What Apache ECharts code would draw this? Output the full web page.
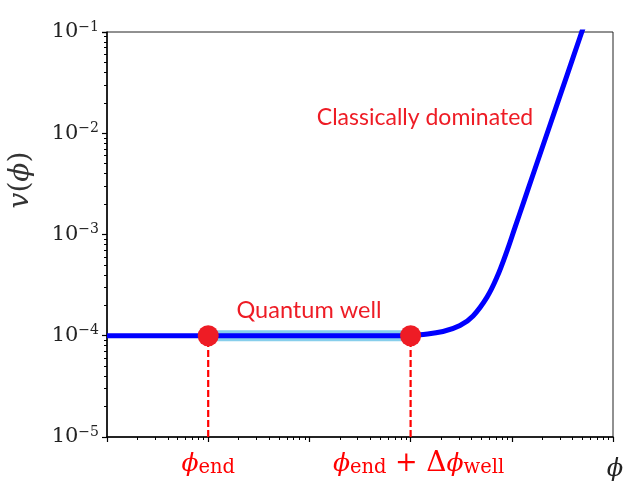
<!DOCTYPE html>
<html>
<head>
<meta charset="utf-8">
<script src="https://cdn.jsdelivr.net/npm/echarts@6/dist/echarts.min.js"></script>
<style>
  html, body { margin: 0; padding: 0; background: #fff; }
  #chart { width: 643px; height: 504px; }
</style>
</head>
<body>
<div id="chart"></div>
<script>
// ---- data ----
const phiCurve = [1, 10, 100, 1000, 1239, 2089, 3076, 4140, 5690, 7140, 8970, 10800, 13100, 16000, 23900, 34900, 47000, 56000];
const vCurve   = [1e-4, 1e-4, 1e-4, 1.0e-4, 1.022e-4, 1.10e-4, 1.26e-4, 1.57e-4, 2.41e-4, 3.80e-4, 6.9e-4, 1.19e-3, 2.09e-3, 3.76e-3, 1.215e-2, 3.67e-2, 8.78e-2, 0.147];
const wellPhi  = [10, 1000];          // phi_end, phi_end + dphi_well
const wellV    = [1e-4, 1e-4];
const xMin = 1, xMax = 1e5;
const yMin = 1e-5, yMax = 1e-1;
const xLabelValues = [10, 1000];
const xLabelTexts  = ['{p|ϕ}{sub|end}', '{gap|}{p|ϕ}{sub|end}{op| + }{d|Δ}{p|ϕ}{sub|well}'];
const yTickExponents = [-5, -4, -3, -2, -1];
const annotations = ['Classically dominated', 'Quantum well'];

const RED = '#ee1c25';
const chart = echarts.init(document.getElementById('chart'));

const curveData = phiCurve.map((p, i) => [p, vCurve[i]]);
const wellData = wellPhi.map((p, i) => [p, wellV[i]]);

const series = [];
wellPhi.forEach((p, i) => {
  series.push({
    type: 'line', data: [[p, yMin], [p, wellV[i]]], symbol: 'none', silent: true,
    lineStyle: { color: '#ff0000', width: 2.2, type: [7, 3] }, z: 1
  });
});
series.push({
  type: 'line', data: wellData, symbol: 'none', silent: true,
  lineStyle: { color: '#87ceeb', width: 11, cap: 'butt' }, z: 2
});
series.push({
  type: 'line', data: curveData, symbol: 'none', smooth: 0.4, silent: true, clip: true,
  lineStyle: { color: '#0000ff', width: 5 }, z: 3
});
series.push({
  type: 'scatter', data: wellData, symbol: 'circle', symbolSize: 21, silent: true,
  itemStyle: { color: RED, opacity: 1 }, z: 4
});

const serif = 'DejaVu Serif';
chart.setOption({
  animation: false,
  backgroundColor: '#fff',
  grid: { left: 107, right: 30, top: 32, bottom: 67, show: true, borderColor: '#222', borderWidth: 1, backgroundColor: 'transparent' },
  xAxis: {
    type: 'log', logBase: 10, min: xMin, max: xMax,
    axisLine: { show: true, lineStyle: { color: '#000', width: 1.5 } },
    axisTick: { show: true, length: 5, lineStyle: { color: '#000', width: 1.2 } },
    minorTick: { show: true, splitNumber: 9, length: 3, lineStyle: { color: '#000', width: 1 } },
    splitLine: { show: false },
    axisLabel: {
      margin: 13, color: '#ff0000',
      showMinLabel: true, showMaxLabel: true,
      formatter: function (v) {
        const idx = xLabelValues.findIndex(x => Math.abs(Math.log10(x) - Math.log10(v)) < 1e-6);
        return idx >= 0 ? xLabelTexts[idx] : '';
      },
      rich: {
        gap: { width: 16 },
        p: { fontFamily: serif, fontStyle: 'italic', fontSize: 25, color: '#ff0000', lineHeight: 28 },
        sub: { fontFamily: serif, fontSize: 19.5, color: '#ff0000', verticalAlign: 'bottom', lineHeight: 22 },
        op: { fontFamily: serif, fontSize: 27, color: '#ff0000', lineHeight: 28 },
        d: { fontFamily: serif, fontSize: 28, color: '#ff0000', lineHeight: 28 }
      }
    }
  },
  yAxis: {
    type: 'log', logBase: 10, min: yMin, max: yMax,
    axisLine: { show: true, lineStyle: { color: '#000', width: 1.5 } },
    axisTick: { show: true, length: 5, lineStyle: { color: '#000', width: 1.2 } },
    minorTick: { show: true, splitNumber: 9, length: 3, lineStyle: { color: '#000', width: 1 } },
    splitLine: { show: false },
    axisLabel: {
      margin: 8, color: '#222',
      showMinLabel: true, showMaxLabel: true,
      formatter: function (v) {
        const e = Math.round(Math.log10(v));
        if (yTickExponents.indexOf(e) < 0) return '';
        return '{b|10}{s|' + (e < 0 ? '\u2212' + (-e) : e) + '}';
      },
      rich: {
        b: { fontFamily: serif, fontSize: 21, color: '#222', lineHeight: 24 },
        s: { fontFamily: serif, fontSize: 14, color: '#222', lineHeight: 14, verticalAlign: 'top' }
      }
    }
  },
  graphic: [
    {
      type: 'text', x: 21, y: 180, rotation: Math.PI / 2,
      style: {
        text: '{i|v}{r|(}{i|ϕ}{r|)}', textAlign: 'center', textVerticalAlign: 'middle',
        rich: {
          i: { fontFamily: serif, fontStyle: 'italic', fontSize: 28, fill: '#333' },
          r: { fontFamily: serif, fontSize: 28, fill: '#333' }
        }
      }
    },
    {
      type: 'text', x: 615, y: 470,
      style: { text: 'ϕ', font: 'italic 24px "DejaVu Serif"', fill: '#222', textAlign: 'center', textVerticalAlign: 'middle' }
    },
    {
      type: 'text', x: 425, y: 118,
      style: { text: annotations[0], font: '23px Lato', fill: RED, textAlign: 'center', textVerticalAlign: 'middle' }
    },
    {
      type: 'text', x: 309, y: 310,
      style: { text: annotations[1], font: '23.5px Lato', fill: RED, textAlign: 'center', textVerticalAlign: 'middle' }
    }
  ],
  series: series
});
</script>
</body>
</html>
